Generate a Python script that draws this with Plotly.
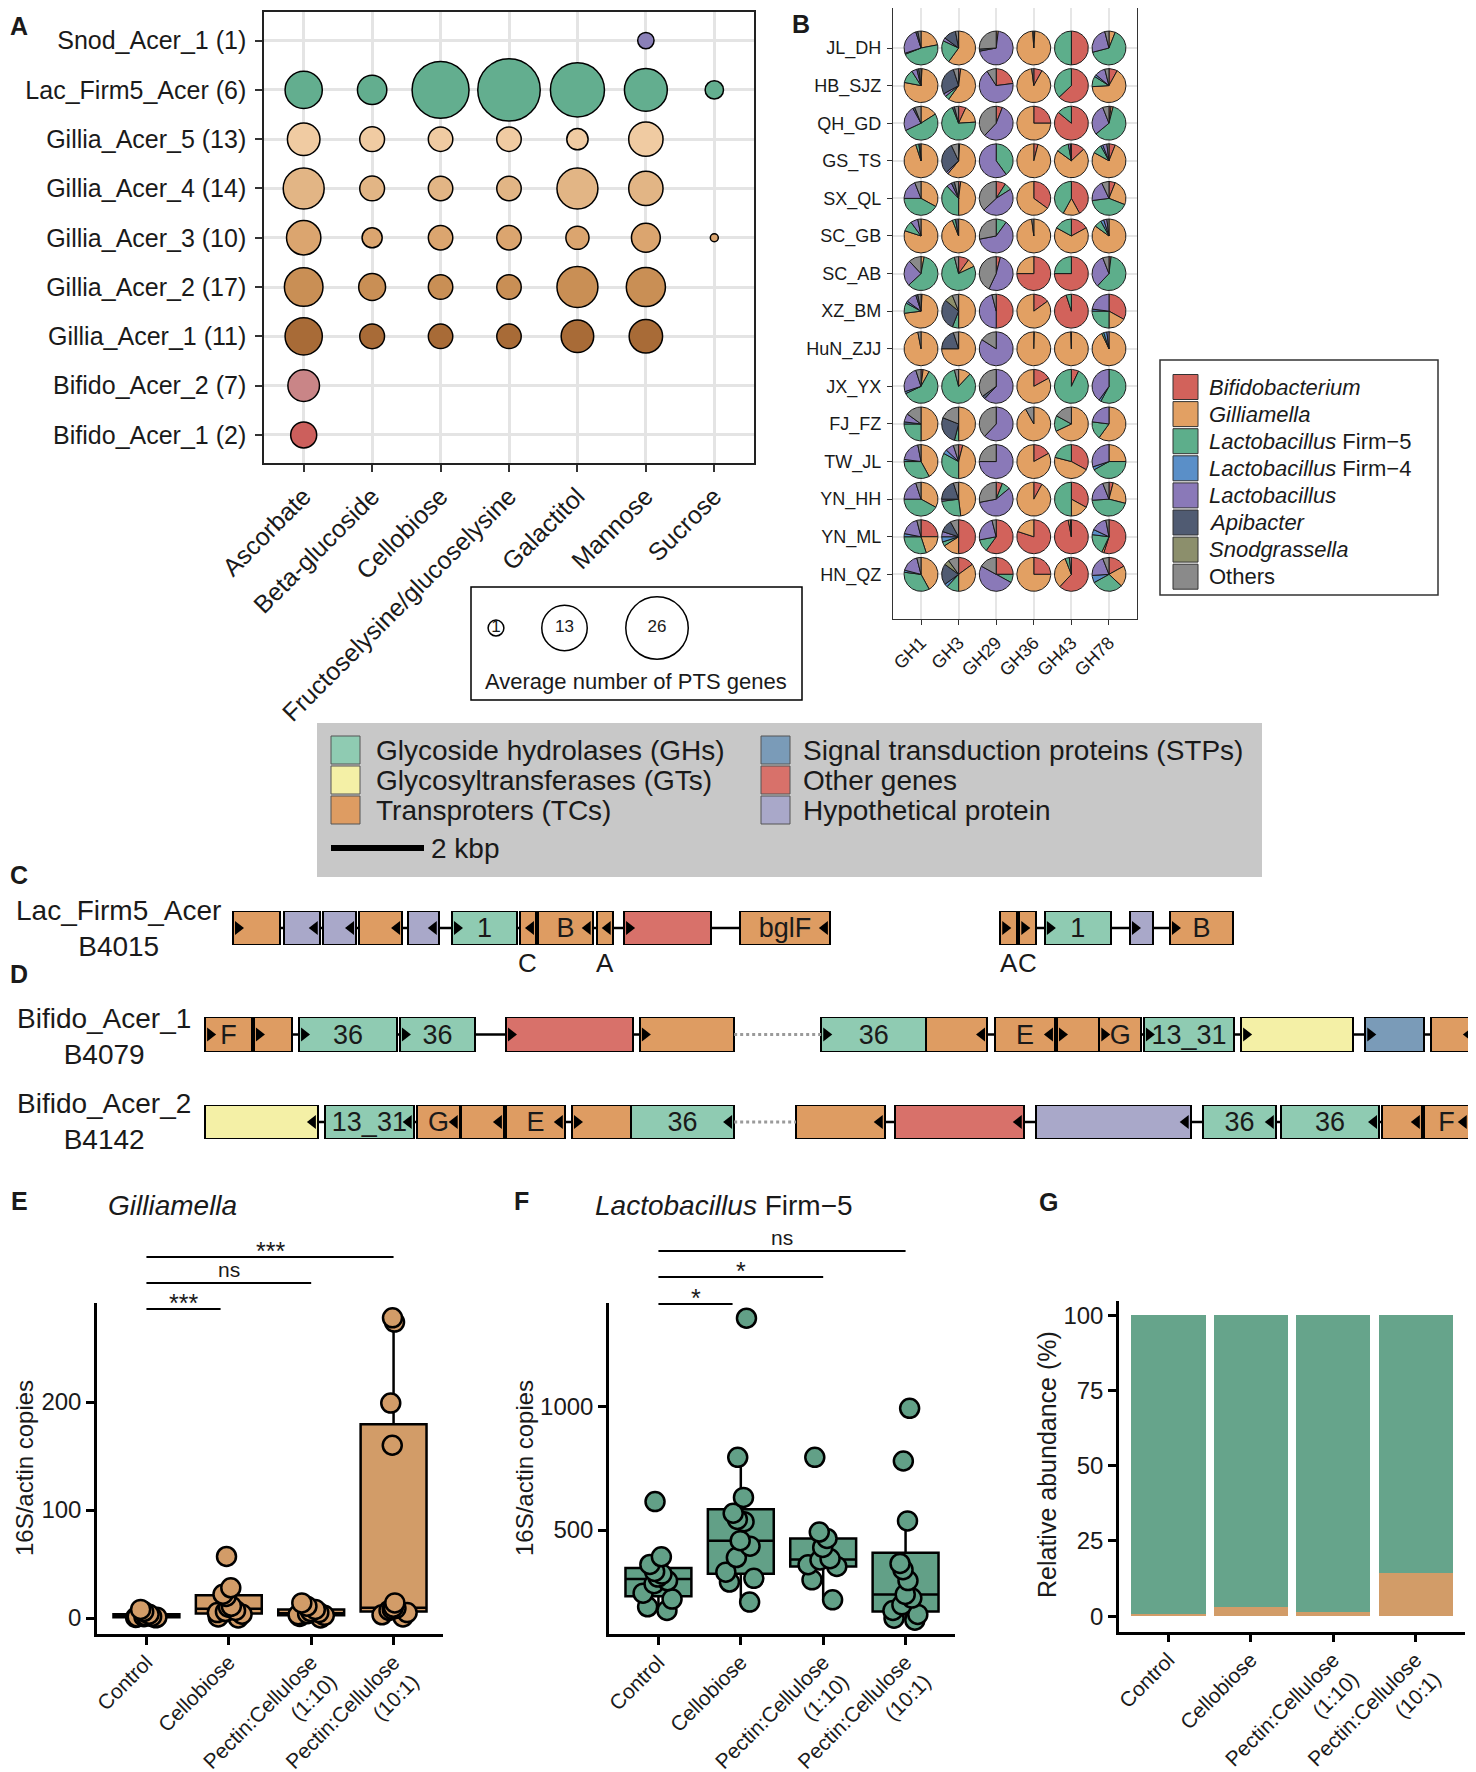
import numpy as np
import plotly.graph_objects as go

# reference-pixel layout, shifted by OFF so the panels line up with the reference
OFF = 8
FW, FH = 1476 - OFF, 1772 - OFF
FONT = "Liberation Sans, Arial, Helvetica, sans-serif"
INK = "#1a1a1a"

# ---------------- Panel A: average number of PTS genes ----------------
a_sugars = ["Ascorbate", "Beta-glucoside", "Cellobiose", "Fructoselysine/glucoselysine",
            "Galactitol", "Mannose", "Sucrose"]
a_clusters = ["Bifido_Acer_1 (2)", "Bifido_Acer_2 (7)", "Gillia_Acer_1 (11)", "Gillia_Acer_2 (17)",
              "Gillia_Acer_3 (10)", "Gillia_Acer_4 (14)", "Gillia_Acer_5 (13)",
              "Lac_Firm5_Acer (6)", "Snod_Acer_1 (1)"]
a_colors = ["#CC5F5C", "#C98587", "#A86B37", "#C98F55", "#DBA56F", "#E2B585", "#F0CBA2",
            "#63AE8F", "#8A80B8"]
pts_bifido_acer_1 = [3.6, None, None, None, None, None, None]
pts_bifido_acer_2 = [5.7, None, None, None, None, None, None]
pts_gillia_acer_1 = [8.3, 3.2, 3.1, 3.1, 6.1, 6.5, None]
pts_gillia_acer_2 = [9.0, 3.9, 3.1, 3.1, 10.3, 9.3, None]
pts_gillia_acer_3 = [6.9, 1.9, 3.1, 3.1, 2.7, 4.6, 0.1]
pts_gillia_acer_4 = [10.3, 3.2, 3.1, 3.1, 10.3, 6.9, None]
pts_gillia_acer_5 = [6.1, 3.2, 3.1, 3.1, 2.2, 6.9, None]
pts_lac_firm5_acer = [8.3, 4.8, 21.3, 26.0, 19.0, 11.4, 1.5]
pts_snod_acer_1 = [None, None, None, None, None, 1.1, None]
a_values = [pts_bifido_acer_1, pts_bifido_acer_2, pts_gillia_acer_1, pts_gillia_acer_2,
            pts_gillia_acer_3, pts_gillia_acer_4, pts_gillia_acer_5, pts_lac_firm5_acer,
            pts_snod_acer_1]
a_legend_sizes = [1, 13, 26]

# ---------------- Panel B: GH family composition (pies) ----------------
b_sites = ["JL_DH", "HB_SJZ", "QH_GD", "GS_TS", "SX_QL", "SC_GB", "SC_AB", "XZ_BM",
           "HuN_ZJJ", "JX_YX", "FJ_FZ", "TW_JL", "YN_HH", "YN_ML", "HN_QZ"]
b_families = ["GH1", "GH3", "GH29", "GH36", "GH43", "GH78"]
b_taxa = ["<i>Bifidobacterium</i>", "<i>Gilliamella</i>", "<i>Lactobacillus</i> Firm\u22125",
          "<i>Lactobacillus</i> Firm\u22124", "<i>Lactobacillus</i>", "<i>Apibacter</i>",
          "<i>Snodgrassella</i>", "Others"]
b_colors = ["#D2625B", "#E2A063", "#5DAE8B", "#5A8FC8", "#8A79B8", "#505B72", "#8C8F6C", "#8A8A8A"]
# each site: 6 GH families x 8 taxa (Bif, Gil, LacF5, LacF4, Lac, Api, Snod, Others)
JL_DH = [[0, .22, .47, .01, .25, .02, 0, .03], [0, .60, .22, 0, .03, .12, 0, .03],
         [0, .02, 0, 0, .70, .02, 0, .26], [.01, .98, 0, 0, 0, 0, 0, .01],
         [.50, 0, .50, 0, 0, 0, 0, 0], [0, .06, .65, 0, .25, 0, 0, .04]]
HB_SJZ = [[.01, .77, .13, 0, .05, .02, 0, .02], [.02, .58, .04, 0, .03, .28, 0, .05],
          [.23, 0, 0, 0, .68, 0, 0, .09], [.08, .90, 0, 0, 0, 0, 0, .02],
          [.63, 0, .37, 0, 0, 0, 0, 0], [.08, .66, .10, .02, .10, 0, 0, .04]]
QH_GD = [[0, .16, .52, 0, .24, .02, 0, .06], [.07, .17, .70, 0, 0, .02, 0, .04],
         [.06, 0, 0, 0, .56, 0, 0, .38], [.25, .75, 0, 0, 0, 0, 0, 0],
         [.86, 0, .14, 0, 0, 0, 0, 0], [.02, .02, .60, 0, .30, 0, 0, .06]]
GS_TS = [[0, .95, .03, .01, 0, 0, 0, .01], [.01, .60, 0, 0, .02, .30, 0, .07],
         [0, 0, .40, 0, .60, 0, 0, 0], [.04, .96, 0, 0, 0, 0, 0, 0],
         [.13, .72, .12, 0, .02, 0, 0, .01], [.06, .77, .09, .02, .04, 0, 0, .02]]
SX_QL = [[0, .33, .42, 0, .19, 0, 0, .06], [.02, .48, .38, 0, .05, .03, 0, .04],
         [.09, 0, .07, 0, .47, 0, 0, .37], [.35, .65, 0, 0, 0, 0, 0, 0],
         [.42, .16, .42, 0, 0, 0, 0, 0], [.06, .25, .42, 0, .20, 0, 0, .07]]
SC_GB = [[0, .80, .10, 0, .07, 0, 0, .03], [0, .94, .03, 0, 0, .03, 0, 0],
         [0, 0, .10, 0, .62, 0, 0, .28], [0, .98, 0, 0, 0, 0, 0, .02],
         [.17, .66, .17, 0, 0, 0, 0, 0], [0, .85, .07, .03, .03, 0, 0, .02]]
SC_AB = [[0, .03, .60, 0, .25, 0, 0, .12], [.10, .08, .78, 0, 0, 0, 0, .04],
         [.04, 0, 0, 0, .53, 0, 0, .43], [.75, .25, 0, 0, 0, 0, 0, 0],
         [.75, 0, .25, 0, 0, 0, 0, 0], [.02, 0, .60, 0, .32, 0, 0, .06]]
XZ_BM = [[.01, .72, .10, .02, .10, .02, 0, .03], [0, .50, .06, 0, 0, .30, .08, .06],
         [.50, 0, 0, 0, .46, 0, 0, .04], [.15, .85, 0, 0, 0, 0, 0, 0],
         [.95, 0, .05, 0, 0, 0, 0, 0], [.33, .17, .25, .02, .23, 0, 0, 0]]
HuN_ZJJ = [[0, .97, 0, 0, 0, 0, 0, .03], [0, .75, 0, 0, 0, .20, 0, .05],
           [0, 0, 0, 0, .84, 0, 0, .16], [.005, .995, 0, 0, 0, 0, 0, 0],
           [0, .995, 0, 0, 0, 0, 0, .005], [0, .93, .02, .03, .02, 0, 0, 0]]
JX_YX = [[.02, .06, .60, .02, .25, 0, 0, .05], [0, .12, .84, 0, 0, 0, 0, .04],
         [0, 0, 0, 0, .62, .03, 0, .35], [.17, .83, 0, 0, 0, 0, 0, 0],
         [.07, 0, .93, 0, 0, 0, 0, 0], [0, 0, .58, .02, .40, 0, 0, 0]]
FJ_FZ = [[0, .50, .25, .02, .08, 0, 0, .15], [0, .50, .04, 0, 0, .27, 0, .19],
         [0, 0, 0, 0, .62, 0, 0, .38], [0, .92, 0, 0, 0, 0, 0, .08],
         [0, .68, .15, 0, 0, 0, 0, .17], [0, .60, .17, 0, .23, 0, 0, 0]]
TW_JL = [[0, .42, .33, .02, .20, 0, 0, .03], [.04, .46, .33, .04, .08, 0, 0, .05],
         [0, 0, 0, 0, .75, 0, 0, .25], [.17, .83, 0, 0, 0, 0, 0, 0],
         [.33, .46, .21, 0, 0, 0, 0, 0], [0, .25, .42, .03, .30, 0, 0, 0]]
YN_HH = [[0, .33, .42, 0, .20, 0, 0, .05], [0, .48, .25, 0, .02, .20, 0, .05],
         [.06, 0, .08, 0, .58, 0, 0, .28], [.08, .92, 0, 0, 0, 0, 0, 0],
         [.33, .17, .50, 0, 0, 0, 0, 0], [.04, .25, .45, 0, .20, 0, 0, .06]]
YN_ML = [[.25, .20, .30, .03, .18, 0, 0, .04], [.50, .16, .04, .05, .05, .12, 0, .08],
         [.60, 0, .12, 0, .24, 0, 0, .04], [.80, .20, 0, 0, 0, 0, 0, 0],
         [.97, .02, 0, 0, 0, 0, 0, .01], [.55, .02, .20, .05, .15, 0, 0, .03]]
HN_QZ = [[0, .42, .35, .02, .17, 0, 0, .04], [.15, .35, .12, .03, 0, .20, .05, .10],
         [.25, 0, .08, 0, .50, 0, 0, .17], [.25, .75, 0, 0, 0, 0, 0, 0],
         [.62, .32, .04, 0, 0, 0, 0, .02], [.17, .20, .30, .07, .20, 0, 0, .06]]
b_rows = [JL_DH, HB_SJZ, QH_GD, GS_TS, SX_QL, SC_GB, SC_AB, XZ_BM, HuN_ZJJ, JX_YX,
          FJ_FZ, TW_JL, YN_HH, YN_ML, HN_QZ]

# ---------------- Panels C/D: gene clusters (kbp) ----------------
gene_classes = ["GH", "GT", "TC", "STP", "Other", "HP"]
gene_class_names = ["Glycoside hydrolases (GHs)", "Glycosyltransferases (GTs)", "Transproters (TCs)",
                    "Signal transduction proteins (STPs)", "Other genes", "Hypothetical protein"]
gene_class_colors = ["#8FCBB2", "#F4F0A6", "#DE9C62", "#7A9BB8", "#D8716A", "#A9A8C9"]

c_start = [0.60, 1.70, 2.54, 3.31, 4.37, 5.31, 6.77, 7.16, 8.43, 9.01, 11.51, 17.10, 17.51, 18.06, 19.89, 20.75]
c_end = [1.61, 2.47, 3.25, 4.24, 5.03, 6.71, 7.12, 8.34, 8.77, 10.88, 13.44, 17.46, 17.87, 19.48, 20.39, 22.11]
c_type = ["TC", "HP", "HP", "TC", "HP", "GH", "TC", "TC", "TC", "Other", "TC", "TC", "TC", "GH", "HP", "TC"]
c_label = ["", "", "", "", "", "1", "", "B", "", "", "bglF", "", "", "1", "", "B"]
c_sub = ["", "", "", "", "", "", "C", "", "A", "", "", "A", "C", "", "", ""]
c_strand = [1, -1, -1, -1, -1, 1, -1, -1, -1, 1, -1, 1, 1, 1, 1, 1]
c_segment = [0] * 11 + [1] * 5

d1_start = [0.00, 1.05, 2.02, 4.19, 6.47, 9.35, 13.25, 15.51, 16.99, 18.32, 19.23, 20.19, 22.28, 24.95, 26.37]
d1_end = [1.01, 1.87, 4.13, 5.81, 9.20, 11.38, 15.51, 16.82, 18.28, 19.23, 20.13, 22.13, 24.69, 26.22, 27.29]
d1_type = ["TC", "TC", "GH", "GH", "Other", "TC", "GH", "TC", "TC", "TC", "TC", "GH", "GT", "STP", "TC"]
d1_label = ["F", "", "36", "36", "", "", "36", "", "E", "", "G", "13_31", "", "", ""]
d1_strand = [1, 1, 1, 1, 1, 1, 1, -1, -1, 1, 1, 1, 1, 1, -1]
d1_segment = [0] * 6 + [1] * 9

d2_start = [0.00, 2.58, 4.56, 5.51, 6.47, 7.89, 9.16, 12.71, 14.84, 17.87, 21.46, 23.14, 25.31, 26.22]
d2_end = [2.43, 4.49, 5.48, 6.43, 7.74, 9.16, 11.38, 14.62, 17.61, 21.20, 23.03, 25.25, 26.17, 27.18]
d2_type = ["GT", "GH", "TC", "TC", "TC", "TC", "GH", "TC", "Other", "HP", "GH", "GH", "TC", "TC"]
d2_label = ["", "13_31", "G", "", "E", "", "36", "", "", "", "36", "36", "", "F"]
d2_strand = [-1, -1, -1, -1, -1, 1, -1, -1, -1, -1, -1, -1, -1, -1]
d2_segment = [0] * 7 + [1] * 7

# ---------------- Panels E/F/G: qPCR and relative abundance ----------------
treatments = ["Control", "Cellobiose", "Pectin:Cellulose<br>(1:10)", "Pectin:Cellulose<br>(10:1)"]
e_control = [0.2, 0.5, 0.8, 1.0, 1.2, 1.5, 2.0, 3.5, 6.0, 8.0]
e_cellobiose = [57, 28, 22, 20, 11, 10, 7, 6, 5, 3.5, 1, 0]
e_pc_1_10 = [0, 1.5, 2.5, 3, 4, 5, 6, 8, 11, 14]
e_pc_10_1 = [278, 274, 199, 160, 14, 10, 9, 8, 7, 5, 3, 1]
f_control = [175, 190, 221, 245, 283, 295, 310, 322, 333, 361, 392, 615]
f_cellobiose = [209, 290, 305, 330, 389, 435, 457, 534, 543, 568, 632, 794, 1356]
f_pc_1_10 = [218, 299, 353, 360, 379, 384, 430, 466, 492, 794]
f_pc_10_1 = [136, 144, 159, 175, 198, 225, 240, 296, 340, 365, 537, 779, 992]
e_signif = [("***", 1, 4), ("ns", 1, 3), ("***", 1, 1.9)]
f_signif = [("ns", 1, 4), ("*", 1, 3), ("*", 1, 1.9)]
g_gilliamella = [0.7, 3.2, 1.3, 14.4]
g_lactobacillus = [99.3, 96.8, 98.7, 85.6]
col_gill = "#D29C68"
col_lact = "#66A48B"
col_firm5 = "#62A087"


# ---------------- helpers (reference pixel -> paper) ----------------
def px(x):
    return min(1.0, max(0.0, (x - OFF) / FW))


def py(y):
    return min(1.0, max(0.0, 1 - (y - OFF) / FH))


def bubble_px(v):
    # area-like size scale (diameter in px, minus outline)
    return 5.9 + 11.39 * np.sqrt(v) - 1.5


fig = go.Figure()
annotations = []
shapes = []


def label(text, x, y, size, xanchor="center", yanchor="middle", bold=False, angle=0,
          color=INK, align="center"):
    if bold:
        text = f"<b>{text}</b>"
    annotations.append(dict(text=text, x=px(x), y=py(y), xref="paper", yref="paper",
                            xanchor=xanchor, yanchor=yanchor, showarrow=False, textangle=angle,
                            align=align, font=dict(family=FONT, size=size, color=color)))


# ---------------- Panel A traces ----------------
for gi, (vals, col) in enumerate(zip(a_values, a_colors)):
    xs = [j for j, v in enumerate(vals) if v is not None]
    fig.add_trace(go.Scatter(
        x=xs, y=[gi] * len(xs), mode="markers", xaxis="x", yaxis="y",
        marker=dict(size=[bubble_px(vals[j]) for j in xs], color=col, opacity=1,
                    line=dict(color="black", width=1.5)),
        showlegend=False, hoverinfo="skip"))

fig.add_trace(go.Scatter(
    x=[0.0755, 0.2825, 0.562], y=[0.637] * 3, mode="markers+text", xaxis="x6", yaxis="y6",
    text=[str(v) for v in a_legend_sizes], textposition="middle center",
    textfont=dict(family=FONT, size=17, color=INK),
    marker=dict(size=[bubble_px(v) for v in a_legend_sizes], color="white", opacity=1,
                line=dict(color="black", width=1.5)),
    showlegend=False, hoverinfo="skip", cliponaxis=False))

# ---------------- Panel B traces (pies drawn as polygons) ----------------
pie_r = 0.45
for k, (tname, tcol) in enumerate(zip(b_taxa, b_colors)):
    xs, ys = [], []
    for i, site in enumerate(b_rows):
        for j, fr in enumerate(site):
            tot = float(sum(fr))
            a0 = sum(fr[:k]) / tot
            a1 = a0 + fr[k] / tot
            if fr[k] <= 0:
                continue
            n = max(3, int((a1 - a0) * 90) + 2)
            t = np.linspace(a0, a1, n) * 2 * np.pi
            xs += [j] + list(j + pie_r * np.sin(t)) + [j, None]
            ys += [i] + list(i - pie_r * np.cos(t)) + [i, None]
    fig.add_trace(go.Scatter(
        x=xs, y=ys, mode="lines", fill="toself", fillcolor=tcol, xaxis="x2", yaxis="y2",
        line=dict(color="#1a1a1a", width=1), showlegend=False, hoverinfo="skip"))

# ---------------- Panels C/D traces ----------------
tracks = [
    ("y3", c_start, c_end, c_type, c_label, c_strand, c_segment, False),
    ("y4", d1_start, d1_end, d1_type, d1_label, d1_strand, d1_segment, True),
    ("y5", d2_start, d2_end, d2_type, d2_label, d2_strand, d2_segment, True),
]
cmap = dict(zip(gene_classes, gene_class_colors))
notch = 0.11
for yax, st, en, ty, lb, sd, sg, link in tracks:
    bx, by, dx, dy = [], [], [], []
    for a in range(len(st) - 1):
        if sg[a] == sg[a + 1]:
            if st[a + 1] > en[a]:
                bx += [en[a], st[a + 1], None]
                by += [0, 0, None]
        elif link:
            dx += [en[a], st[a + 1], None]
            dy += [0, 0, None]
    fig.add_trace(go.Scatter(x=bx, y=by, mode="lines", xaxis="x3", yaxis=yax,
                             line=dict(color="black", width=2.5), showlegend=False, hoverinfo="skip"))
    if dx:
        fig.add_trace(go.Scatter(x=dx, y=dy, mode="lines", xaxis="x3", yaxis=yax,
                                 line=dict(color="#9A9A9A", width=3, dash="dot"),
                                 showlegend=False, hoverinfo="skip"))
    fig.add_trace(go.Bar(
        orientation="h", y=[0] * len(st), x=[e - s for s, e in zip(st, en)], base=st, width=1.0,
        xaxis="x3", yaxis=yax, marker=dict(color=[cmap[t] for t in ty], line=dict(color="black", width=2)),
        text=lb, textposition="inside", insidetextanchor="middle", textangle=0, constraintext="none",
        textfont=dict(family=FONT, size=27, color=INK), showlegend=False, hoverinfo="skip"))
    fig.add_trace(go.Scatter(
        x=[(s + notch) if d > 0 else (e - notch) for s, e, d in zip(st, en, sd)], y=[0] * len(st),
        mode="markers", xaxis="x3", yaxis=yax,
        marker=dict(symbol=["triangle-right" if d > 0 else "triangle-left" for d in sd],
                    size=12, color="black"),
        showlegend=False, hoverinfo="skip"))

# gene sub-labels under track C (x on the gene axis, placed below the track)
for s, e, t in zip(c_start, c_end, c_sub):
    if t:
        annotations.append(dict(text=t, xref="x3", yref="paper", x=(s + e) / 2, y=py(963),
                                xanchor="center", yanchor="middle", showarrow=False,
                                font=dict(family=FONT, size=26, color=INK)))

# ---------------- Panels E/F ----------------
for xa, ya, groups, colr in [("x7", "y7", [e_control, e_cellobiose, e_pc_1_10, e_pc_10_1], col_gill),
                             ("x8", "y8", [f_control, f_cellobiose, f_pc_1_10, f_pc_10_1], col_firm5)]:
    for gi, vals in enumerate(groups):
        fig.add_trace(go.Box(
            x=[gi + 1] * len(vals), y=vals, xaxis=xa, yaxis=ya, width=0.8,
            fillcolor=colr, line=dict(color="black", width=2.5), whiskerwidth=0,
            boxpoints="all", jitter=0.55, pointpos=0,
            marker=dict(size=19, color=colr, opacity=1, line=dict(color="black", width=2.5)),
            showlegend=False, hoverinfo="skip"))

# ---------------- Panel G ----------------
fig.add_trace(go.Bar(x=[1, 2, 3, 4], y=g_gilliamella, width=0.9, marker=dict(color=col_gill, line=dict(width=0)),
                     xaxis="x9", yaxis="y9", showlegend=False, hoverinfo="skip"))
fig.add_trace(go.Bar(x=[1, 2, 3, 4], y=g_lactobacillus, width=0.9, marker=dict(color=col_lact, line=dict(width=0)),
                     xaxis="x9", yaxis="y9", showlegend=False, hoverinfo="skip"))

# ---------------- significance bars ----------------
for xa, sig, levels in [("x7", e_signif, [1257, 1283, 1309]), ("x8", f_signif, [1251, 1277, 1304])]:
    for (txt, g0, g1), lvl in zip(sig, levels):
        shapes.append(dict(type="line", xref=xa, yref="paper", x0=g0, x1=g1, y0=py(lvl), y1=py(lvl),
                           line=dict(color="black", width=2)))
        star = "*" in txt
        annotations.append(dict(text=txt, xref=xa, yref="paper", x=(g0 + g1) / 2,
                                y=py(lvl - (6 if star else 14)),
                                xanchor="center", yanchor="middle", showarrow=False,
                                font=dict(family=FONT, size=25 if star else 21, color=INK)))

# ---------------- legends ----------------
shapes.append(dict(type="rect", xref="paper", yref="paper", x0=px(471), x1=px(802), y0=py(700), y1=py(587),
                   line=dict(color="black", width=1.5), fillcolor="rgba(0,0,0,0)"))
label("Average number of PTS genes", 636, 682, 22)

shapes.append(dict(type="rect", xref="paper", yref="paper", x0=px(1160), x1=px(1438), y0=py(595), y1=py(360),
                   line=dict(color="#333", width=1.5), fillcolor="white"))
for k, (tname, tcol) in enumerate(zip(b_taxa, b_colors)):
    yc = 387 + k * 27.1
    shapes.append(dict(type="rect", xref="paper", yref="paper", x0=px(1173), x1=px(1198),
                       y0=py(yc + 12.5), y1=py(yc - 12.5), line=dict(color="#333", width=1), fillcolor=tcol))
    label(tname, 1207, yc, 22, xanchor="left")

shapes.append(dict(type="rect", xref="paper", yref="paper", x0=px(317), x1=px(1262), y0=py(877), y1=py(723),
                   line=dict(width=0), fillcolor="#C8C8C8", layer="below"))
for k, (nm, colr) in enumerate(zip(gene_class_names, gene_class_colors)):
    col_i, row_i = divmod(k, 3)
    kx = [331, 761][col_i]
    tx = [374, 801][col_i]
    yc = 750 + row_i * 30
    shapes.append(dict(type="rect", xref="paper", yref="paper", x0=px(kx), x1=px(kx + 29),
                       y0=py(yc + 14), y1=py(yc - 14), line=dict(color="#555", width=1), fillcolor=colr))
    label(nm, tx, yc, 28, xanchor="left")
sb0 = (331 - 205) / 46.5
shapes.append(dict(type="line", xref="x3", yref="paper", x0=sb0, x1=sb0 + 2, y0=py(848), y1=py(848),
                   line=dict(color="black", width=6)))
label("2 kbp", 429, 848, 28, xanchor="left")

label("Lac_Firm5_Acer<br>B4015", 118, 928, 28)
label("Bifido_Acer_1<br>B4079", 104, 1036, 28)
label("Bifido_Acer_2<br>B4142", 104, 1121, 28)

for t, x, y in [("A", 19, 26), ("B", 801, 24), ("C", 19, 875), ("D", 19, 974),
                ("E", 20, 1201), ("F", 521, 1201), ("G", 1048, 1202)]:
    label(t, x, y, 25, bold=True)
label("<i>Gilliamella</i>", 172, 1205, 28)
label("<i>Lactobacillus</i> Firm\u22125", 724, 1205, 28)
label("16S/actin copies", 24, 1468, 24, angle=-90)
label("16S/actin copies", 524, 1468, 24, angle=-90)
label("Relative abundance (%)", 1047, 1465, 25, angle=-90)

# ---------------- axes ----------------
tf = lambda s: dict(family=FONT, size=s, color=INK)
bx_scale = 244 / 6.49            # px per unit in panel B (both axes, keeps pies round)
b_top_px, b_bot_px, b_row0_px = 8, 619, 48
b_range_top = -(b_row0_px - b_top_px) / bx_scale
b_range_bot = b_range_top + (b_bot_px - b_top_px) / bx_scale

classic_x = dict(showline=True, linecolor="black", linewidth=2.5, ticks="outside", ticklen=8, tickwidth=2.5,
                 tickcolor="black", showgrid=False, zeroline=False, tickfont=tf(21), automargin=False,
                 ticklabelstandoff=-3)
classic_y = dict(classic_x, tickfont=tf(24), ticklabelstandoff=0)

layout = dict(
    width=FW, height=FH, margin=dict(l=0, r=0, t=0, b=0, autoexpand=False), paper_bgcolor="white",
    plot_bgcolor="white", font=dict(family=FONT, color=INK), barmode="stack", showlegend=False,
    xaxis=dict(domain=[px(264), px(754)], range=[-0.58, 6.58], tickvals=list(range(7)), ticktext=a_sugars,
               tickangle=-45, showgrid=True, gridcolor="#E4E4E4", gridwidth=2.5, zeroline=False, showline=True,
               mirror=True, linecolor="#222", linewidth=1.5, ticks="outside", ticklen=7, tickwidth=2,
               tickcolor="#333", tickfont=tf(25), anchor="y", automargin=False),
    yaxis=dict(domain=[py(463), py(12)], range=[-0.57, 8.58], tickvals=list(range(9)), ticktext=a_clusters,
               showgrid=True, gridcolor="#E4E4E4", gridwidth=2.5, zeroline=False, showline=True, mirror=True,
               linecolor="#222", linewidth=1.5, ticks="outside", ticklen=7, tickwidth=2, tickcolor="#333",
               tickfont=tf(25), anchor="x", ticklabelstandoff=4, automargin=False),
    xaxis2=dict(domain=[px(893), px(1137)], range=[-0.745, 5.745], tickvals=list(range(6)), ticktext=b_families,
                tickangle=-45, showgrid=True, gridcolor="#E6E6E6", gridwidth=1.5, zeroline=False, showline=True,
                mirror=True, linecolor="#333", linewidth=1.2, ticks="outside", ticklen=5, tickwidth=1.2,
                tickcolor="#333", tickfont=tf(18), anchor="y2", automargin=False),
    yaxis2=dict(domain=[py(b_bot_px), py(b_top_px)], range=[b_range_bot, b_range_top], tickvals=list(range(15)),
                ticktext=b_sites, showgrid=True, gridcolor="#E6E6E6", gridwidth=1.5, zeroline=False,
                showline=True, mirror=True, linecolor="#333", linewidth=1.2, ticks="outside", ticklen=5,
                tickwidth=1.2, tickcolor="#333", tickfont=tf(18), anchor="x2", ticklabelstandoff=2,
                automargin=False),
    xaxis3=dict(domain=[0, 1], range=[(OFF - 205) / 46.5, (1476 - 205) / 46.5], visible=False, anchor="y3",
                automargin=False),
    yaxis3=dict(domain=[py(945), py(911)], range=[-0.5, 0.5], visible=False, anchor="x3", automargin=False),
    yaxis4=dict(domain=[py(1052), py(1017)], range=[-0.5, 0.5], visible=False, anchor="x3", automargin=False),
    yaxis5=dict(domain=[py(1139), py(1105)], range=[-0.5, 0.5], visible=False, anchor="x3", automargin=False),
    xaxis6=dict(domain=[px(471), px(802)], range=[0, 1], visible=False, anchor="y6", automargin=False),
    yaxis6=dict(domain=[py(700), py(587)], range=[0, 1], visible=False, anchor="x6", automargin=False),
    xaxis7=dict(domain=[px(97), px(443)], range=[0.4, 4.6], tickvals=[1, 2, 3, 4], ticktext=treatments,
                tickangle=-45, anchor="y7", **classic_x),
    yaxis7=dict(domain=[py(1634), py(1303)], range=[-14.8, 291.7], tickvals=[0, 100, 200], anchor="x7",
                **classic_y),
    xaxis8=dict(domain=[px(609), px(955)], range=[0.4, 4.6], tickvals=[1, 2, 3, 4], ticktext=treatments,
                tickangle=-45, anchor="y8", **classic_x),
    yaxis8=dict(domain=[py(1634), py(1303)], range=[80, 1417.5], tickvals=[500, 1000], anchor="x8", **classic_y),
    xaxis9=dict(domain=[px(1119), px(1465)], range=[0.4, 4.6], tickvals=[1, 2, 3, 4], ticktext=treatments,
                tickangle=-45, anchor="y9", **classic_x),
    yaxis9=dict(domain=[py(1631.5), py(1301)], range=[-5.1, 104.8], tickvals=[0, 25, 50, 75, 100], anchor="x9",
                **classic_y),
    annotations=annotations, shapes=shapes,
)
fig.update_layout(**layout)
fig.write_html("out.html")
